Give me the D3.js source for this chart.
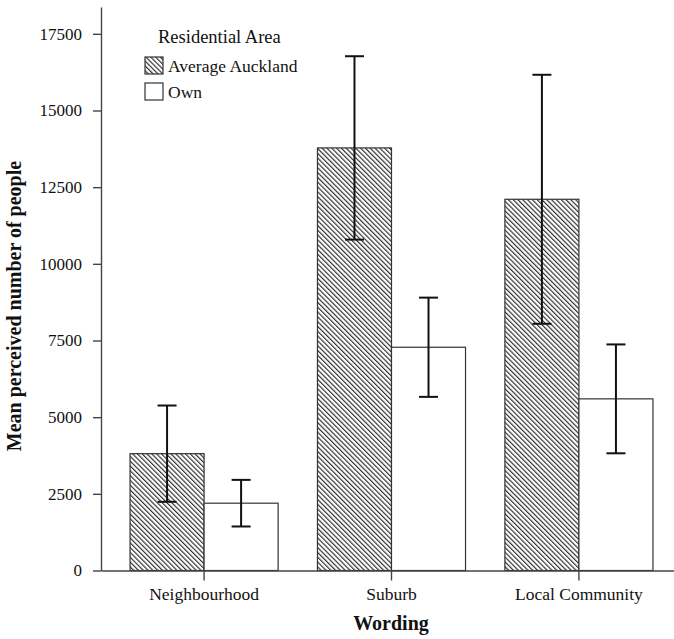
<!DOCTYPE html>
<meta charset="utf-8">
<style>
body { margin: 0; background: #fff; }
svg { font-family: "Liberation Serif", "Times New Roman", serif; }
</style>
<svg width="674" height="639"></svg>
<script src="https://d3js.org/d3.v7.min.js"></script>
<script>

var categories = ["Neighbourhood", "Suburb", "Local Community"];
var seriesNames = ["Average Auckland", "Own"];
var aucklandMean = [3810, 13780, 12105];
var aucklandErr = [1570, 2990, 4060];
var ownMean = [2195, 7280, 5597];
var ownErr = [760, 1618, 1775];
var yTicks = [0, 2500, 5000, 7500, 10000, 12500, 15000, 17500];

var svg = d3.select("svg");

var x = d3.scaleBand()
    .domain(categories)
    .range([101, 682])
    .paddingInner(0.21)
    .paddingOuter(0.155);

var sub = d3.scaleBand()
    .domain(seriesNames)
    .range([0, x.bandwidth()]);

var y = d3.scaleLinear()
    .domain([0, 18375])
    .range([570.5, 7]);

// hatch for the Auckland bars
var defs = svg.append("defs");
defs.append("pattern")
    .attr("id", "hatch")
    .attr("patternUnits", "userSpaceOnUse")
    .attr("width", 3.4)
    .attr("height", 3.4)
    .attr("patternTransform", "rotate(-45)")
  .append("line")
    .attr("x1", 0.6).attr("y1", 0)
    .attr("x2", 0.6).attr("y2", 3.4)
    .attr("stroke", "#222")
    .attr("stroke-width", 1.1);

var rows = [];
categories.forEach(function(c, i) {
  rows.push({cat: c, series: seriesNames[0], mean: aucklandMean[i], err: aucklandErr[i]});
  rows.push({cat: c, series: seriesNames[1], mean: ownMean[i], err: ownErr[i]});
});

function fillFor(s) { return s == seriesNames[0] ? "url(#hatch)" : "#fff"; }

// bars
svg.append("g").selectAll("rect")
    .data(rows)
  .enter().append("rect")
    .attr("x", function(d) { return x(d.cat) + sub(d.series); })
    .attr("y", function(d) { return y(d.mean); })
    .attr("width", sub.bandwidth())
    .attr("height", function(d) { return y(0) - y(d.mean); })
    .attr("fill", function(d) { return fillFor(d.series); })
    .attr("stroke", "#333")
    .attr("stroke-width", 1.2);

// error bars
var eb = svg.append("g").selectAll("g")
    .data(rows)
  .enter().append("g")
    .attr("transform", function(d) { return "translate(" + (x(d.cat) + sub(d.series) + sub.bandwidth() / 2) + ",0)"; })
    .attr("stroke", "#111")
    .attr("stroke-width", 2);

eb.append("line")
    .attr("y1", function(d) { return y(d.mean - d.err); })
    .attr("y2", function(d) { return y(d.mean + d.err); });
eb.append("line")
    .attr("x1", -9.5).attr("x2", 9.5)
    .attr("y1", function(d) { return y(d.mean + d.err); })
    .attr("y2", function(d) { return y(d.mean + d.err); });
eb.append("line")
    .attr("x1", -9.5).attr("x2", 9.5)
    .attr("y1", function(d) { return y(d.mean - d.err); })
    .attr("y2", function(d) { return y(d.mean - d.err); });

// axes
var yAxis = svg.append("g")
    .attr("transform", "translate(101,0)")
    .call(d3.axisLeft(y).tickValues(yTicks).tickFormat(d3.format("d"))
      .tickSize(8).tickPadding(11).tickSizeOuter(0));

var xAxis = svg.append("g")
    .attr("transform", "translate(0," + y(0) + ")")
    .call(d3.axisBottom(x).tickSize(10).tickPadding(7).tickSizeOuter(0));

[yAxis, xAxis].forEach(function(a) {
  a.select(".domain").attr("stroke", "#444").attr("stroke-width", 1.4);
  a.selectAll(".tick line").attr("stroke", "#444").attr("stroke-width", 1.4);
  a.selectAll("text")
      .attr("fill", "#111")
      .style("font-family", "Liberation Serif, serif");
});
yAxis.selectAll("text").style("font-size", "17px");
xAxis.selectAll("text").style("font-size", "17.5px");

// axis titles
svg.append("text")
    .attr("transform", "translate(21,306) rotate(-90)")
    .attr("text-anchor", "middle")
    .attr("font-weight", "bold")
    .attr("font-size", 20)
    .attr("fill", "#111")
    .text("Mean perceived number of people");

svg.append("text")
    .attr("x", 391)
    .attr("y", 630)
    .attr("text-anchor", "middle")
    .attr("font-weight", "bold")
    .attr("font-size", 20)
    .attr("fill", "#111")
    .text("Wording");

// legend
var legend = svg.append("g");
legend.append("text")
    .attr("x", 158)
    .attr("y", 43)
    .attr("font-size", 18.5)
    .attr("fill", "#111")
    .text("Residential Area");

var item = legend.selectAll("g")
    .data(seriesNames)
  .enter().append("g")
    .attr("transform", function(d, i) { return "translate(145," + (57 + i * 26) + ")"; });

item.append("rect")
    .attr("width", 18)
    .attr("height", 17)
    .attr("fill", fillFor)
    .attr("stroke", "#333")
    .attr("stroke-width", 1.2);

item.append("text")
    .attr("x", 23)
    .attr("y", 15)
    .attr("font-size", 17.5)
    .attr("fill", "#111")
    .text(function(d) { return d; });

</script>
